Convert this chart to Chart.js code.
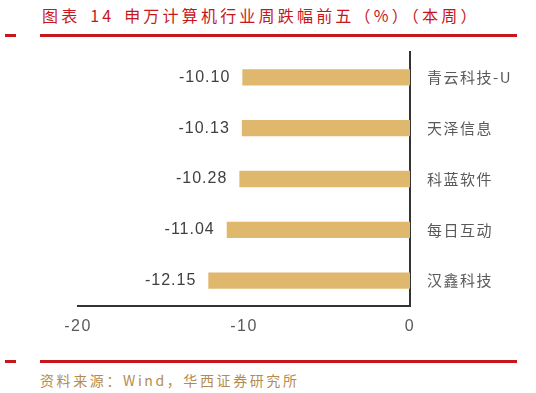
<!DOCTYPE html>
<html>
<head>
<meta charset="utf-8">
<script src="https://cdn.jsdelivr.net/npm/chart.js@4/dist/chart.umd.min.js"></script>
<style>
  html, body { margin: 0; padding: 0; background: #fff; }
  body { width: 536px; height: 393px; position: relative; overflow: hidden; font-family: "Noto Sans CJK SC", sans-serif; }
  #title { position: absolute; left: 42px; top: 3px; font-size: 16px; color: #c8161d; letter-spacing: 3.2px; word-spacing: 3px; white-space: nowrap; }
  .rule { position: absolute; height: 3px; background: #c8161d; }
  #source { position: absolute; left: 40px; top: 370px; font-size: 14px; color: #b48c50; letter-spacing: 2.6px; white-space: nowrap; }
  #wrap { position: absolute; left: 0; top: 0; width: 536px; height: 393px; }
</style>
</head>
<body>
<div id="title">图表 14 申万计算机行业周跌幅前五（%）（本周）</div>
<div class="rule" style="left:5px; top:34px; width:11px;"></div>
<div class="rule" style="left:40px; top:34px; width:477px;"></div>
<div class="rule" style="left:5px; top:360px; width:11px;"></div>
<div class="rule" style="left:40px; top:360px; width:477px;"></div>
<div id="source">资料来源：Wind，华西证券研究所</div>
<div id="wrap"><canvas id="c" width="536" height="393"></canvas></div>
<script>
const categories = ["青云科技-U", "天泽信息", "科蓝软件", "每日互动", "汉鑫科技"];
const weeklyChange = [-10.10, -10.13, -10.28, -11.04, -12.15];
const xTicks = [-20, -10, 0];

const spacing = {
  id: 'spacing',
  beforeDraw(chart) { chart.ctx.letterSpacing = '1.5px'; }
};

const valueLabels = {
  id: 'valueLabels',
  afterDatasetsDraw(chart) {
    const ctx = chart.ctx;
    const meta = chart.getDatasetMeta(0);
    ctx.save();
    ctx.letterSpacing = '1px';
    ctx.font = '16px "Liberation Sans", Arial, sans-serif';
    ctx.fillStyle = '#404040';
    ctx.textAlign = 'right';
    ctx.textBaseline = 'middle';
    meta.data.forEach((bar, i) => {
      ctx.fillText(weeklyChange[i].toFixed(2), bar.x - 12, bar.y);
    });
    ctx.restore();
  }
};

new Chart(document.getElementById('c'), {
  type: 'bar',
  data: {
    labels: categories,
    datasets: [{
      data: weeklyChange,
      backgroundColor: '#dfb86e',
      borderWidth: 0,
      barPercentage: 0.32,
      categoryPercentage: 1.0
    }]
  },
  options: {
    indexAxis: 'y',
    responsive: false,
    animation: false,
    events: [],
    layout: { padding: { left: 78, top: 52, right: 0, bottom: 0 } },
    plugins: { legend: { display: false }, tooltip: { enabled: false } },
    scales: {
      x: {
        min: -20, max: 0,
        afterFit(axis) { axis.height = 87; },
        afterBuildTicks(axis) { axis.ticks = xTicks.map(v => ({ value: v })); },
        grid: { display: false, drawTicks: false },
        border: { display: true, color: '#333333', width: 2 },
        ticks: {
          padding: 11,
          color: '#595959',
          font: { size: 16, family: '"Liberation Sans", Arial, sans-serif' },
          callback: v => String(v)
        }
      },
      y: {
        position: 'right',
        afterFit(axis) { axis.width = 126; },
        grid: { display: false, drawTicks: false },
        border: { display: true, color: '#333333', width: 2 },
        ticks: {
          padding: 17,
          color: '#595959',
          font: { size: 15, family: '"Noto Sans CJK SC", sans-serif' }
        }
      }
    }
  },
  plugins: [spacing, valueLabels]
});
</script>
</body>
</html>
